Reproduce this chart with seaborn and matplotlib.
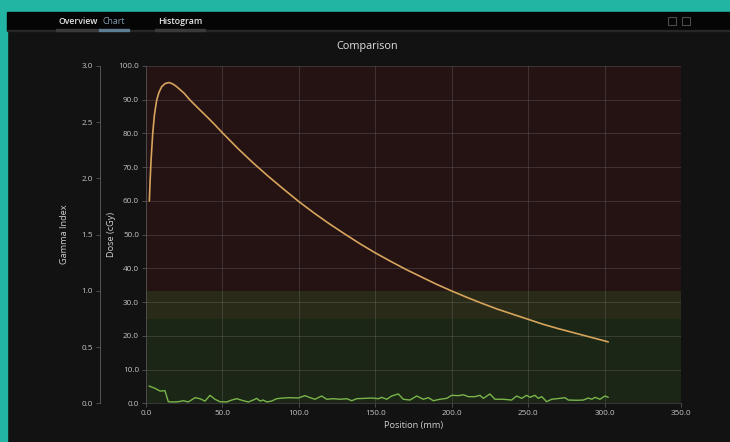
import matplotlib
matplotlib.use('Agg')
import matplotlib.pyplot as plt
from matplotlib.patches import Rectangle
import seaborn as sns
import pandas as pd

# --- Data ---
dose_pos = [2.2, 2.7, 3.3, 4.4, 5.5, 7.0, 8.5, 10.3, 12.5, 15.0, 17.5, 20.0, 25.0, 28.8,
            35.0, 40.0, 45.0, 50.0, 60.0, 70.0, 80.0, 90.0, 100.0, 110.0, 120.0, 130.0,
            140.0, 150.0, 160.0, 170.0, 180.0, 190.0, 200.0, 210.0, 220.0, 230.0, 240.0,
            250.0, 260.0, 270.0, 280.0, 290.0, 300.0, 302.4]
dose_val = [60.0, 66.0, 72.0, 80.0, 85.5, 89.9, 92.2, 93.9, 94.8, 95.1, 94.7, 93.9, 91.9,
            89.9, 87.1, 84.9, 82.6, 80.2, 75.6, 71.3, 67.3, 63.5, 59.8, 56.4, 53.2, 50.2,
            47.3, 44.6, 42.1, 39.7, 37.5, 35.3, 33.3, 31.4, 29.6, 27.9, 26.4, 24.9, 23.4,
            22.1, 20.9, 19.7, 18.5, 18.2]

gamma_pos = [2.0, 5.9, 9.2, 12.4, 14.6, 17.9, 21.1, 24.4, 27.7, 32.1, 35.3, 38.6, 41.9,
             45.1, 48.4, 52.8, 56.1, 59.3, 63.7, 66.9, 70.2, 72.4, 74.6, 76.7, 79.0,
             82.2, 85.5, 89.8, 94.2, 99.6, 104.0, 107.3, 110.6, 114.9, 118.2, 122.5,
             126.9, 131.3, 134.6, 137.8, 143.3, 147.7, 152.0, 154.2, 157.5, 160.7,
             165.1, 168.3, 172.7, 177.1, 181.4, 184.7, 188.0, 192.3, 196.7, 200.0,
             204.3, 207.6, 210.8, 215.2, 218.5, 220.7, 225.0, 228.3, 233.7, 239.2,
             242.5, 245.8, 249.0, 251.2, 254.5, 256.6, 258.9, 262.1, 265.4, 270.8,
             274.1, 276.3, 281.8, 286.1, 289.4, 291.6, 293.7, 297.0, 300.3, 302.4]
gamma_val = [0.154, 0.133, 0.109, 0.112, 0.014, 0.012, 0.014, 0.023, 0.012, 0.050, 0.041,
             0.020, 0.071, 0.036, 0.014, 0.012, 0.029, 0.041, 0.023, 0.012, 0.029, 0.044,
             0.020, 0.029, 0.012, 0.020, 0.041, 0.047, 0.050, 0.047, 0.068, 0.050, 0.036,
             0.065, 0.036, 0.041, 0.036, 0.041, 0.023, 0.041, 0.044, 0.047, 0.041, 0.053,
             0.036, 0.065, 0.083, 0.036, 0.029, 0.065, 0.036, 0.050, 0.023, 0.036, 0.044,
             0.071, 0.068, 0.076, 0.059, 0.059, 0.071, 0.044, 0.083, 0.036, 0.036, 0.029,
             0.065, 0.044, 0.071, 0.053, 0.071, 0.044, 0.059, 0.014, 0.036, 0.044, 0.050,
             0.029, 0.027, 0.029, 0.047, 0.036, 0.053, 0.036, 0.065, 0.053]

# gamma pass/warn/fail bands (gamma index units)
band_edges = [0.0, 0.75, 1.0, 3.0]
band_colors = ['#1b2616', '#2a2a18', '#251313']

dose_ticks = [0, 10, 20, 30, 40, 50, 60, 70, 80, 90, 100]
gamma_ticks = [0.0, 0.5, 1.0, 1.5, 2.0, 2.5, 3.0]
pos_ticks = [0, 50, 100, 150, 200, 250, 300, 350]
tabs = ['Overview', 'Chart', 'Histogram']

dose_df = pd.DataFrame({'pos': dose_pos, 'dose': dose_val})
gamma_df = pd.DataFrame({'pos': gamma_pos, 'gamma': gamma_val})

sns.set_theme(style='dark')
plt.rcParams['font.family'] = ['Open Sans', 'DejaVu Sans']

BG = '#121212'
TXT = '#c4c4c4'
W, H = 730, 442

fig = plt.figure(figsize=(7.3, 4.42), dpi=100, facecolor=BG)

# --- app chrome: teal frame, tab bar ---
fig.add_artist(Rectangle((0, 1 - 12 / H), 1, 12 / H, transform=fig.transFigure,
                         color='#22b5a4', zorder=0))
fig.add_artist(Rectangle((0, 0), 7 / W, 1, transform=fig.transFigure,
                         color='#22b5a4', zorder=0))
fig.add_artist(Rectangle((7 / W, 1 - 30 / H), 1, 18 / H, transform=fig.transFigure,
                         color='#050505', zorder=0))
fig.add_artist(Rectangle((7 / W, 1 - 31 / H), 1, 1 / H, transform=fig.transFigure,
                         color='#262626', zorder=0))
tab_x = [78, 114, 180]
tab_w = [44, 30, 50]
for name, x, w in zip(tabs, tab_x, tab_w):
    active = name == 'Chart'
    fig.text(x / W, 1 - 21 / H, name, ha='center', va='center', fontsize=6.3,
             color='#7f9bb0' if active else '#e6e6e6', fontweight='normal' if active else 'semibold')
    fig.add_artist(Rectangle(((x - w / 2) / W, 1 - 31 / H), w / W, 2 / H,
                             transform=fig.transFigure,
                             color='#5d7d92' if active else '#3a3a3a'))
for x in [672, 686]:
    fig.add_artist(Rectangle(((x - 4) / W, 1 - 25 / H), 8 / W, 8 / H, transform=fig.transFigure,
                             fill=False, ec='#4a4a4a', lw=0.8))

fig.text(367 / W, 1 - 47 / H, 'Comparison', ha='center', va='center', fontsize=7.8, color='#e0e0e0')

# --- main plot ---
left, right, top, bottom = 146, 681, 66, 403.3
ax = fig.add_axes([left / W, 1 - bottom / H, (right - left) / W, (bottom - top) / H])
ax.set_facecolor(BG)

for lo, hi, c in zip(band_edges[:-1], band_edges[1:], band_colors):
    ax.axhspan(lo * 100 / 3, hi * 100 / 3, color=c, lw=0, zorder=0)

sns.lineplot(data=dose_df, x='pos', y='dose', ax=ax, color='#d6a45c', lw=1.2, zorder=3)

ax.set_xlim(0, 350)
ax.set_ylim(0, 100)
ax.set_xticks(pos_ticks)
ax.set_xticklabels([f'{v:.1f}' for v in pos_ticks])
ax.set_yticks(dose_ticks)
ax.set_yticklabels([f'{v:.1f}' for v in dose_ticks])
ax.grid(True, color='#8a8a8a', alpha=0.3, lw=0.6)
ax.set_axisbelow(False)
ax.tick_params(colors=TXT, labelsize=5.9, length=3, width=0.6, pad=2,
               left=True, bottom=True, color='#555555')
for s in ['top', 'right']:
    ax.spines[s].set_visible(False)
for s in ['left', 'bottom']:
    ax.spines[s].set_color('#3c3c3c')
    ax.spines[s].set_linewidth(0.6)
ax.set_xlabel('Position (mm)', color='#d0d0d0', fontsize=6.6, labelpad=3)
ax.set_ylabel('Dose (cGy)', color='#d0d0d0', fontsize=6.6, labelpad=2)

# gamma axis, drawn on the left outside the dose axis
ax2 = ax.twinx()
ax2.patch.set_visible(False)
sns.lineplot(data=gamma_df, x='pos', y='gamma', ax=ax2, color='#7ab54b', lw=1.0)
ax2.set_ylim(0, 3)
ax2.set_yticks(gamma_ticks)
ax2.set_yticklabels([f'{v:.1f}' for v in gamma_ticks])
ax2.yaxis.set_ticks_position('left')
ax2.yaxis.set_label_position('left')
ax2.spines['left'].set_position(('axes', (100 - left) / (right - left)))
ax2.spines['left'].set_visible(True)
ax2.spines['left'].set_color('#555555')
ax2.spines['left'].set_linewidth(0.7)
for s in ['top', 'right', 'bottom']:
    ax2.spines[s].set_visible(False)
ax2.tick_params(colors=TXT, labelsize=5.9, length=3, width=0.6, pad=2, color='#555555')
ax2.set_ylabel('Gamma Index', color='#d0d0d0', fontsize=6.6, labelpad=9)
ax2.grid(False)

fig.savefig('out.png', dpi=100, facecolor=BG)
